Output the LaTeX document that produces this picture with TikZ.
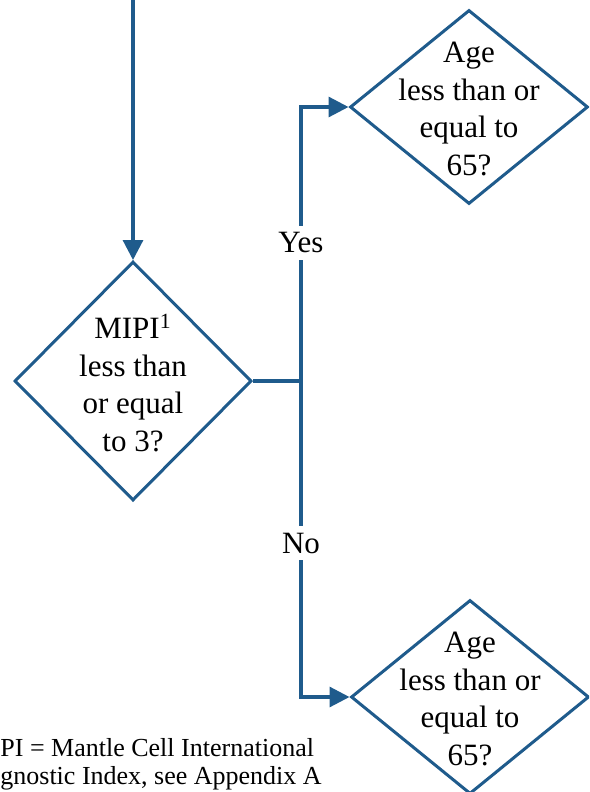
\documentclass[tikz,border=0pt]{standalone}
\usepackage{fontspec}
\setmainfont{Liberation Serif}
\usetikzlibrary{shapes.geometric,arrows.meta}
\definecolor{flowblue}{RGB}{31,91,140}
\begin{document}
\begin{tikzpicture}[x=0.5pt,y=-0.5pt,
  decision/.style={shape=diamond,draw=flowblue,line width=1.5pt,inner sep=0pt,
    minimum width=119pt,minimum height=97pt},
  qtext/.style={align=center,font=\fontsize{15.5}{18.75}\selectfont,inner sep=0pt},
  flow/.style={draw=flowblue,line width=1.6pt},
  flowarrow/.style={flow,-{Triangle[length=10pt,width=10pt]}},
  branch/.style={fill=white,inner sep=3.5pt,font=\fontsize{15.5}{18.75}\selectfont}]
\useasboundingbox (0,0) rectangle (589,792);
\clip (0,0) rectangle (589,792);

% decision diamonds
\node[decision,minimum width=118.5pt,minimum height=119.5pt] (mipi) at (133,381) {};
\node[qtext] (mipitext) at (133,383) {MIPI\textsuperscript{1}\\less than\\or equal\\to 3?};

\node[decision] (ageyes) at (469,107) {};
\node[qtext] (ageyestext) at (469,109) {Age\\less than or\\equal to\\65?};

\node[decision] (ageno) at (470,697) {};
\node[qtext] (agenotext) at (470,699) {Age\\less than or\\equal to\\65?};

% connectors
\coordinate (entry) at (133,-10);
\coordinate (split) at (301,381);
\draw[flowarrow] (entry) -- (mipi.north);
\draw[flow] (mipi.east) -- (split);
\draw[flowarrow] (split) |- (ageyes.west);
\draw[flowarrow] (split) |- (ageno.west);

% branch labels
\node[branch] (yes) at (301,243) {Yes};
\node[branch] (no) at (301,543) {No};

% footnote
\node[anchor=west,align=left,inner sep=0pt,font=\fontsize{13}{14}\selectfont] (note) at (0,764)
  {PI = Mantle Cell International\\gnostic Index, see Appendix A};
\end{tikzpicture}
\end{document}
